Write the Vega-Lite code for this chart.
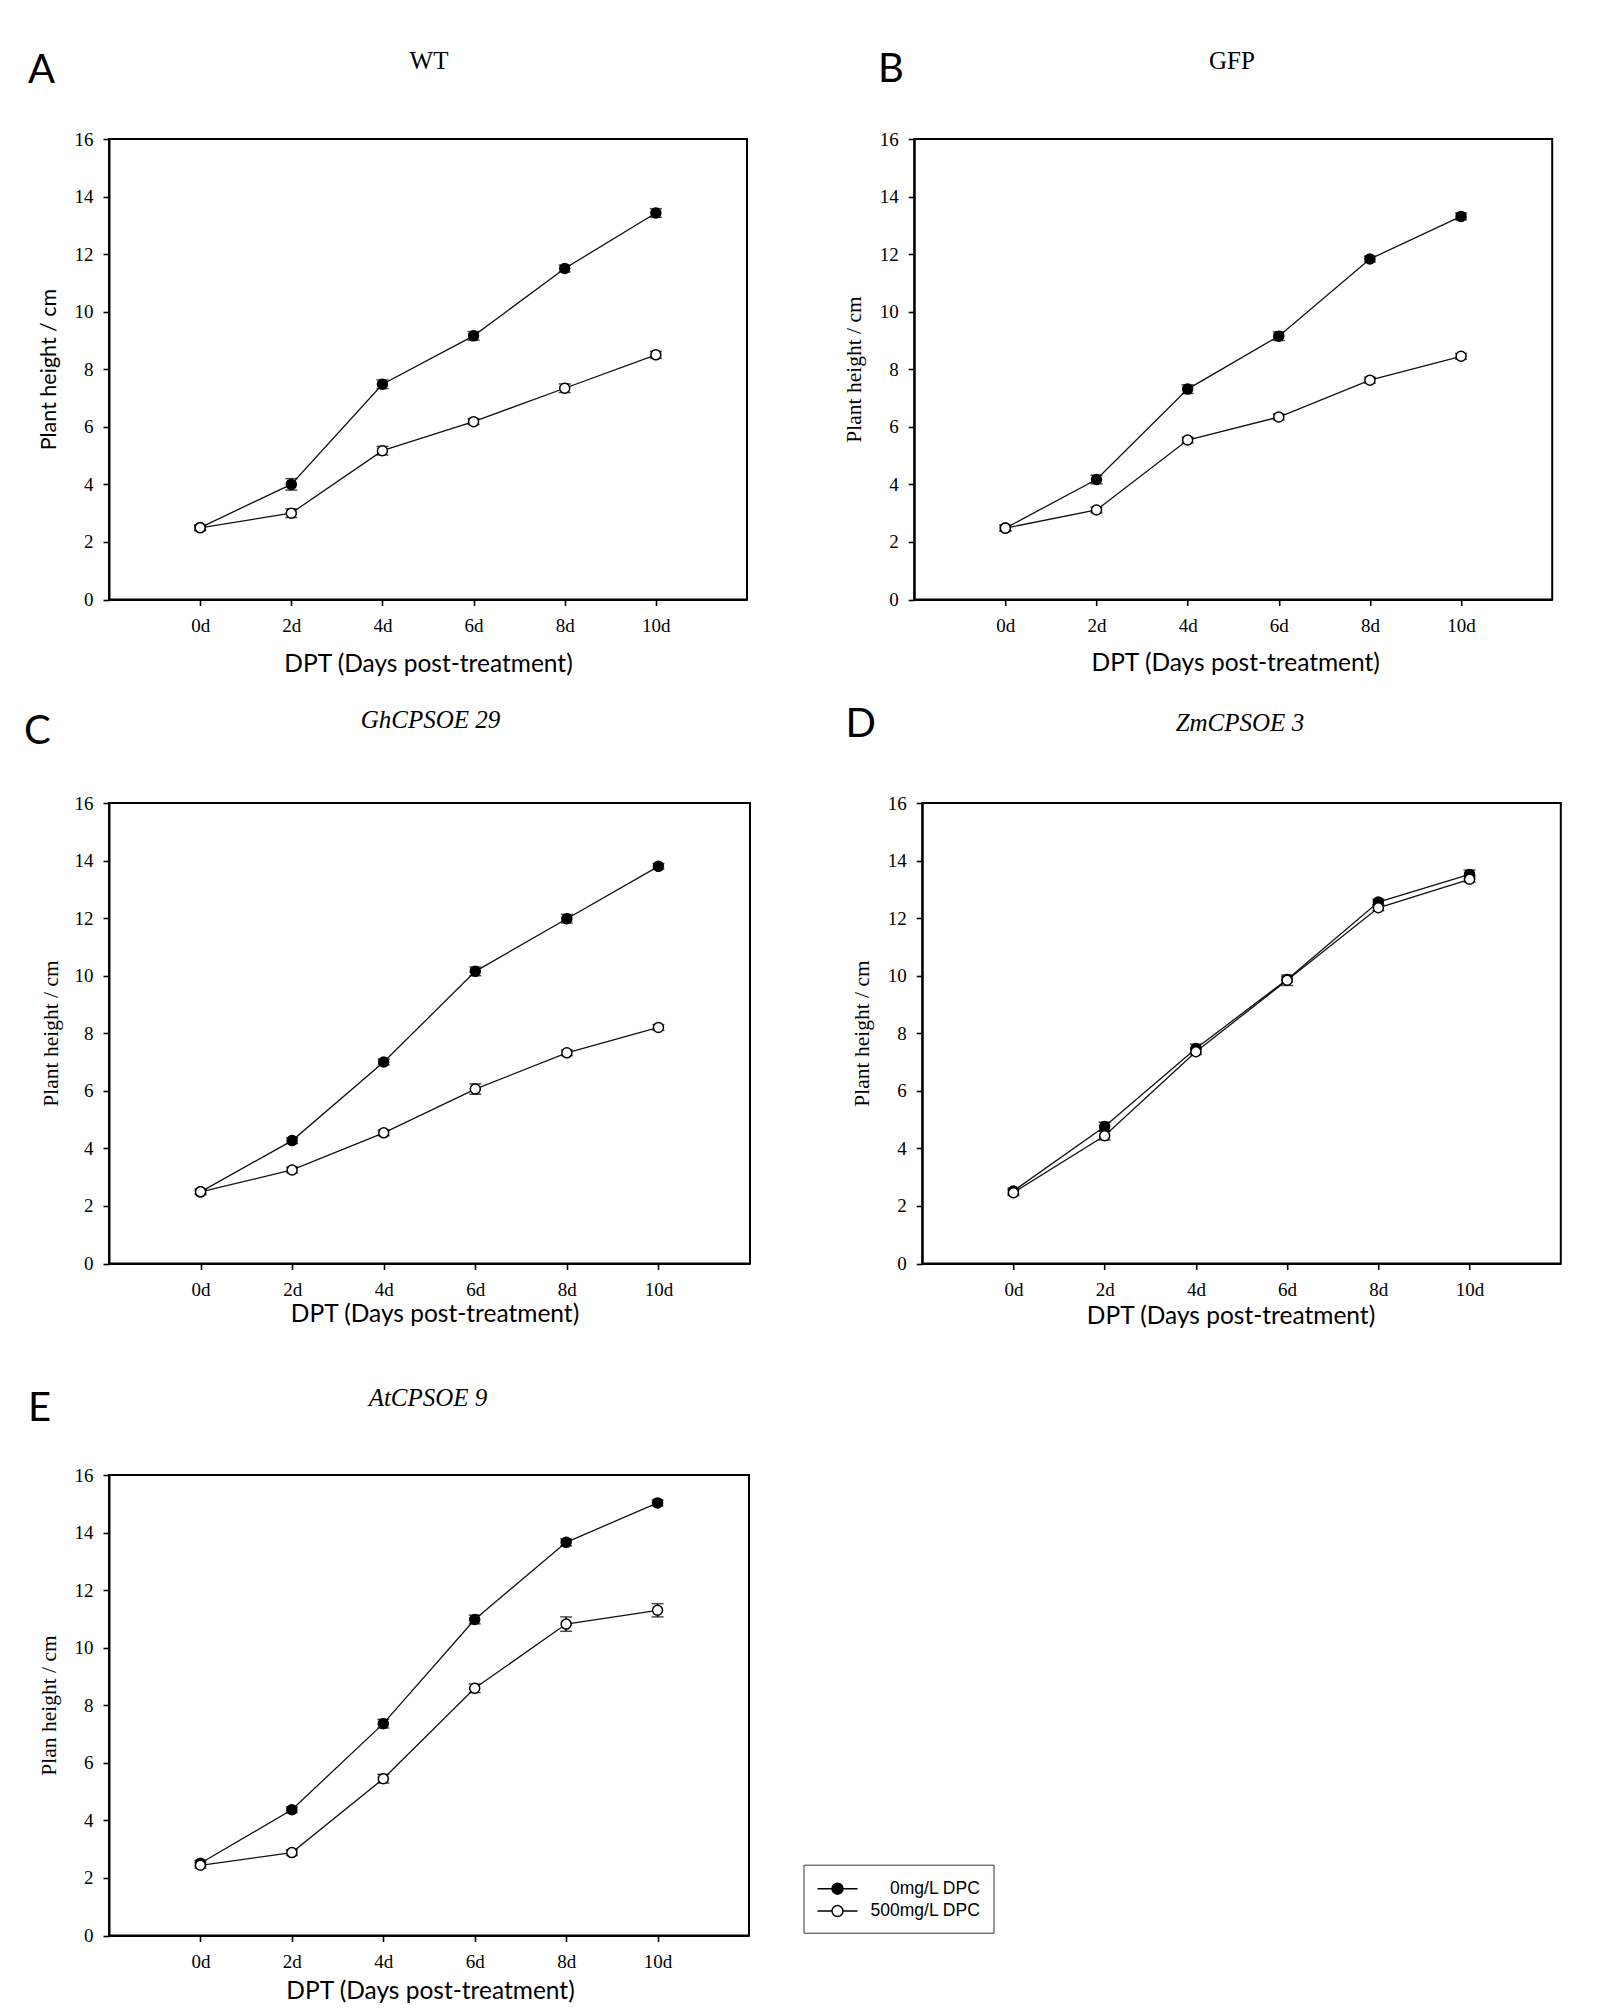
{
  "$schema": "https://vega.github.io/schema/vega-lite/v6.json",
  "background": "white",
  "padding": {"left": 22, "top": 47, "right": 20, "bottom": 20},
  "data": {"values": [
    {"panel":"A","treatment":"0mg/L DPC","day":0,"height":2.5,"err":0.08},
    {"panel":"A","treatment":"0mg/L DPC","day":2,"height":4.0,"err":0.2},
    {"panel":"A","treatment":"0mg/L DPC","day":4,"height":7.48,"err":0.15},
    {"panel":"A","treatment":"0mg/L DPC","day":6,"height":9.16,"err":0.15},
    {"panel":"A","treatment":"0mg/L DPC","day":8,"height":11.5,"err":0.12},
    {"panel":"A","treatment":"0mg/L DPC","day":10,"height":13.43,"err":0.15},
    {"panel":"A","treatment":"500mg/L DPC","day":0,"height":2.49,"err":0.1},
    {"panel":"A","treatment":"500mg/L DPC","day":2,"height":3.0,"err":0.15},
    {"panel":"A","treatment":"500mg/L DPC","day":4,"height":5.17,"err":0.15},
    {"panel":"A","treatment":"500mg/L DPC","day":6,"height":6.18,"err":0.1},
    {"panel":"A","treatment":"500mg/L DPC","day":8,"height":7.34,"err":0.15},
    {"panel":"A","treatment":"500mg/L DPC","day":10,"height":8.5,"err":0.12},
    {"panel":"B","treatment":"0mg/L DPC","day":0,"height":2.48,"err":0.1},
    {"panel":"B","treatment":"0mg/L DPC","day":2,"height":4.17,"err":0.15},
    {"panel":"B","treatment":"0mg/L DPC","day":4,"height":7.31,"err":0.15},
    {"panel":"B","treatment":"0mg/L DPC","day":6,"height":9.15,"err":0.15},
    {"panel":"B","treatment":"0mg/L DPC","day":8,"height":11.83,"err":0.1},
    {"panel":"B","treatment":"0mg/L DPC","day":10,"height":13.31,"err":0.12},
    {"panel":"B","treatment":"500mg/L DPC","day":0,"height":2.48,"err":0.1},
    {"panel":"B","treatment":"500mg/L DPC","day":2,"height":3.11,"err":0.1},
    {"panel":"B","treatment":"500mg/L DPC","day":4,"height":5.54,"err":0.1},
    {"panel":"B","treatment":"500mg/L DPC","day":6,"height":6.34,"err":0.1},
    {"panel":"B","treatment":"500mg/L DPC","day":8,"height":7.62,"err":0.1},
    {"panel":"B","treatment":"500mg/L DPC","day":10,"height":8.45,"err":0.1},
    {"panel":"C","treatment":"0mg/L DPC","day":0,"height":2.49,"err":0.05},
    {"panel":"C","treatment":"0mg/L DPC","day":2,"height":4.27,"err":0.1},
    {"panel":"C","treatment":"0mg/L DPC","day":4,"height":7.0,"err":0.1},
    {"panel":"C","treatment":"0mg/L DPC","day":6,"height":10.15,"err":0.15},
    {"panel":"C","treatment":"0mg/L DPC","day":8,"height":11.98,"err":0.15},
    {"panel":"C","treatment":"0mg/L DPC","day":10,"height":13.8,"err":0.1},
    {"panel":"C","treatment":"500mg/L DPC","day":0,"height":2.49,"err":0.1},
    {"panel":"C","treatment":"500mg/L DPC","day":2,"height":3.25,"err":0.1},
    {"panel":"C","treatment":"500mg/L DPC","day":4,"height":4.54,"err":0.1},
    {"panel":"C","treatment":"500mg/L DPC","day":6,"height":6.06,"err":0.18},
    {"panel":"C","treatment":"500mg/L DPC","day":8,"height":7.32,"err":0.1},
    {"panel":"C","treatment":"500mg/L DPC","day":10,"height":8.2,"err":0.1},
    {"panel":"D","treatment":"0mg/L DPC","day":0,"height":2.52,"err":0.1},
    {"panel":"D","treatment":"0mg/L DPC","day":2,"height":4.76,"err":0.15},
    {"panel":"D","treatment":"0mg/L DPC","day":4,"height":7.47,"err":0.15},
    {"panel":"D","treatment":"0mg/L DPC","day":6,"height":9.87,"err":0.1},
    {"panel":"D","treatment":"0mg/L DPC","day":8,"height":12.56,"err":0.1},
    {"panel":"D","treatment":"0mg/L DPC","day":10,"height":13.52,"err":0.15},
    {"panel":"D","treatment":"500mg/L DPC","day":0,"height":2.46,"err":0.1},
    {"panel":"D","treatment":"500mg/L DPC","day":2,"height":4.44,"err":0.15},
    {"panel":"D","treatment":"500mg/L DPC","day":4,"height":7.36,"err":0.1},
    {"panel":"D","treatment":"500mg/L DPC","day":6,"height":9.84,"err":0.18},
    {"panel":"D","treatment":"500mg/L DPC","day":8,"height":12.36,"err":0.1},
    {"panel":"D","treatment":"500mg/L DPC","day":10,"height":13.35,"err":0.1},
    {"panel":"E","treatment":"0mg/L DPC","day":0,"height":2.51,"err":0.1},
    {"panel":"E","treatment":"0mg/L DPC","day":2,"height":4.37,"err":0.1},
    {"panel":"E","treatment":"0mg/L DPC","day":4,"height":7.36,"err":0.15},
    {"panel":"E","treatment":"0mg/L DPC","day":6,"height":10.98,"err":0.15},
    {"panel":"E","treatment":"0mg/L DPC","day":8,"height":13.66,"err":0.12},
    {"panel":"E","treatment":"0mg/L DPC","day":10,"height":15.03,"err":0.1},
    {"panel":"E","treatment":"500mg/L DPC","day":0,"height":2.44,"err":0.1},
    {"panel":"E","treatment":"500mg/L DPC","day":2,"height":2.88,"err":0.1},
    {"panel":"E","treatment":"500mg/L DPC","day":4,"height":5.45,"err":0.15},
    {"panel":"E","treatment":"500mg/L DPC","day":6,"height":8.59,"err":0.15},
    {"panel":"E","treatment":"500mg/L DPC","day":8,"height":10.82,"err":0.25},
    {"panel":"E","treatment":"500mg/L DPC","day":10,"height":11.3,"err":0.23}
  ]},
  "spacing": 26,
  "resolve": {"scale": {"fill": "independent"}, "legend": {"fill": "independent"}},
  "vconcat": [
    {
      "hconcat": [
        {
          "width": 638, "height": 460.5,
          "transform": [{"filter": "datum.panel === 'A'"}],
          "resolve": {"axis": {"x": "independent"}},
          "layer": [
            {"mark": {"type": "line", "color": "#111111", "strokeWidth": 1.3},
             "encoding": {
               "x": {"field": "day", "type": "quantitative", "scale": {"domain": [-2, 12], "nice": false, "zero": false},
                     "axis": {"orient": "bottom", "values": [0,2,4,6,8,10], "labelExpr": "datum.value + 'd'", "title": "DPT (Days post-treatment)", "titleFont": "Lato", "titleFontSize": 24.5, "titleX": 319, "titleY": 65, "titleAlign": "center", "titleBaseline": "middle"}},
               "y": {"field": "height", "type": "quantitative", "scale": {"domain": [0, 16], "nice": false},
                     "axis": {"values": [0,2,4,6,8,10,12,14,16], "title": "Plant height / cm", "titleFont": "Lato", "titleFontSize": 21.5, "titleX": -59.5, "titleY": 230, "titleAlign": "center", "titleBaseline": "middle", "titleAngle": -90}},
               "detail": {"field": "treatment"}}},
            {"mark": {"type": "errorbar", "ticks": true, "size": 12, "thickness": 1.5, "color": "black"},
             "encoding": {
               "x": {"field": "day", "type": "quantitative",
                     "axis": {"orient": "top", "domain": false, "ticks": false, "labels": false, "title": "A", "titleFont": "Lato", "titleFontSize": 40, "titleX": -68, "titleY": -69, "titleAlign": "center", "titleBaseline": "middle"}},
               "y": {"field": "height", "type": "quantitative",
                     "axis": {"values": [0,2,4,6,8,10,12,14,16], "title": "Plant height / cm", "titleFont": "Lato", "titleFontSize": 21.5, "titleX": -59.5, "titleY": 230, "titleAlign": "center", "titleBaseline": "middle", "titleAngle": -90}},
               "yError": {"field": "err"}}},
            {"mark": {"type": "point", "shape": "circle", "filled": true, "size": 100, "stroke": "black", "strokeWidth": 1.5, "opacity": 1},
             "encoding": {
               "x": {"field": "day", "type": "quantitative",
                     "axis": {"orient": "top", "domain": false, "ticks": false, "labels": false, "title": "WT", "titleFont": "Liberation Serif", "titleFontSize": 25, "titleX": 319.5, "titleY": -79, "titleAlign": "center", "titleBaseline": "middle"}},
               "y": {"field": "height", "type": "quantitative",
                     "axis": {"values": [0,2,4,6,8,10,12,14,16], "title": "Plant height / cm", "titleFont": "Lato", "titleFontSize": 21.5, "titleX": -59.5, "titleY": 230, "titleAlign": "center", "titleBaseline": "middle", "titleAngle": -90}},
               "fill": {"field": "treatment", "type": "nominal", "scale": {"domain": ["0mg/L DPC", "500mg/L DPC"], "range": ["black", "white"]}, "legend": null}}}
          ]
        },
        {
          "width": 638, "height": 460.5,
          "transform": [{"filter": "datum.panel === 'B'"}],
          "resolve": {"axis": {"x": "independent"}},
          "layer": [
            {"mark": {"type": "line", "color": "#111111", "strokeWidth": 1.3},
             "encoding": {
               "x": {"field": "day", "type": "quantitative", "scale": {"domain": [-2, 12], "nice": false, "zero": false},
                     "axis": {"orient": "bottom", "values": [0,2,4,6,8,10], "labelExpr": "datum.value + 'd'", "title": "DPT (Days post-treatment)", "titleFont": "Lato", "titleFontSize": 24.5, "titleX": 321, "titleY": 64, "titleAlign": "center", "titleBaseline": "middle"}},
               "y": {"field": "height", "type": "quantitative", "scale": {"domain": [0, 16], "nice": false},
                     "axis": {"values": [0,2,4,6,8,10,12,14,16], "title": "Plant height / cm", "titleFont": "Liberation Serif", "titleFontSize": 21.5, "titleX": -59.7, "titleY": 230, "titleAlign": "center", "titleBaseline": "middle", "titleAngle": -90}},
               "detail": {"field": "treatment"}}},
            {"mark": {"type": "errorbar", "ticks": true, "size": 12, "thickness": 1.5, "color": "black"},
             "encoding": {
               "x": {"field": "day", "type": "quantitative",
                     "axis": {"orient": "top", "domain": false, "ticks": false, "labels": false, "title": "B", "titleFont": "Lato", "titleFontSize": 40, "titleX": -23.7, "titleY": -70, "titleAlign": "center", "titleBaseline": "middle"}},
               "y": {"field": "height", "type": "quantitative",
                     "axis": {"values": [0,2,4,6,8,10,12,14,16], "title": "Plant height / cm", "titleFont": "Liberation Serif", "titleFontSize": 21.5, "titleX": -59.7, "titleY": 230, "titleAlign": "center", "titleBaseline": "middle", "titleAngle": -90}},
               "yError": {"field": "err"}}},
            {"mark": {"type": "point", "shape": "circle", "filled": true, "size": 100, "stroke": "black", "strokeWidth": 1.5, "opacity": 1},
             "encoding": {
               "x": {"field": "day", "type": "quantitative",
                     "axis": {"orient": "top", "domain": false, "ticks": false, "labels": false, "title": "GFP", "titleFont": "Liberation Serif", "titleFontSize": 25, "titleX": 317.3, "titleY": -78.6, "titleAlign": "center", "titleBaseline": "middle"}},
               "y": {"field": "height", "type": "quantitative",
                     "axis": {"values": [0,2,4,6,8,10,12,14,16], "title": "Plant height / cm", "titleFont": "Liberation Serif", "titleFontSize": 21.5, "titleX": -59.7, "titleY": 230, "titleAlign": "center", "titleBaseline": "middle", "titleAngle": -90}},
               "fill": {"field": "treatment", "type": "nominal", "scale": {"domain": ["0mg/L DPC", "500mg/L DPC"], "range": ["black", "white"]}, "legend": null}}}
          ]
        }
      ],
      "spacing": 167.2,
      "bounds": "flush",
      "resolve": {"scale": {"fill": "independent"}, "legend": {"fill": "independent"}}
    },
    {
      "spacing": 55,
      "resolve": {"scale": {"fill": "independent"}, "legend": {"fill": "independent"}},
      "vconcat": [
        {
          "hconcat": [
            {
              "width": 641, "height": 460.5,
              "transform": [{"filter": "datum.panel === 'C'"}],
              "resolve": {"axis": {"x": "independent"}},
              "layer": [
                {"mark": {"type": "line", "color": "#111111", "strokeWidth": 1.3},
                 "encoding": {
                   "x": {"field": "day", "type": "quantitative", "scale": {"domain": [-2, 12], "nice": false, "zero": false},
                         "axis": {"orient": "bottom", "values": [0,2,4,6,8,10], "labelExpr": "datum.value + 'd'", "title": "DPT (Days post-treatment)", "titleFont": "Lato", "titleFontSize": 24.5, "titleX": 325.5, "titleY": 50.5, "titleAlign": "center", "titleBaseline": "middle"}},
                   "y": {"field": "height", "type": "quantitative", "scale": {"domain": [0, 16], "nice": false},
                         "axis": {"values": [0,2,4,6,8,10,12,14,16], "title": "Plant height / cm", "titleFont": "Liberation Serif", "titleFontSize": 21.5, "titleX": -57.5, "titleY": 230, "titleAlign": "center", "titleBaseline": "middle", "titleAngle": -90}},
                   "detail": {"field": "treatment"}}},
                {"mark": {"type": "errorbar", "ticks": true, "size": 12, "thickness": 1.5, "color": "black"},
                 "encoding": {
                   "x": {"field": "day", "type": "quantitative",
                         "axis": {"orient": "top", "domain": false, "ticks": false, "labels": false, "title": "C", "titleFont": "Lato", "titleFontSize": 40, "titleX": -72.2, "titleY": -72, "titleAlign": "center", "titleBaseline": "middle"}},
                   "y": {"field": "height", "type": "quantitative",
                         "axis": {"values": [0,2,4,6,8,10,12,14,16], "title": "Plant height / cm", "titleFont": "Liberation Serif", "titleFontSize": 21.5, "titleX": -57.5, "titleY": 230, "titleAlign": "center", "titleBaseline": "middle", "titleAngle": -90}},
                   "yError": {"field": "err"}}},
                {"mark": {"type": "point", "shape": "circle", "filled": true, "size": 100, "stroke": "black", "strokeWidth": 1.5, "opacity": 1},
                 "encoding": {
                   "x": {"field": "day", "type": "quantitative",
                         "axis": {"orient": "top", "domain": false, "ticks": false, "labels": false, "title": "GhCPSOE 29", "titleFont": "Liberation Serif", "titleFontStyle": "italic", "titleFontSize": 25, "titleX": 321, "titleY": -83.4, "titleAlign": "center", "titleBaseline": "middle"}},
                   "y": {"field": "height", "type": "quantitative",
                         "axis": {"values": [0,2,4,6,8,10,12,14,16], "title": "Plant height / cm", "titleFont": "Liberation Serif", "titleFontSize": 21.5, "titleX": -57.5, "titleY": 230, "titleAlign": "center", "titleBaseline": "middle", "titleAngle": -90}},
                   "fill": {"field": "treatment", "type": "nominal", "scale": {"domain": ["0mg/L DPC", "500mg/L DPC"], "range": ["black", "white"]}, "legend": null}}}
              ]
            },
            {
              "width": 638.6, "height": 460.5,
              "transform": [{"filter": "datum.panel === 'D'"}],
              "resolve": {"axis": {"x": "independent"}},
              "layer": [
                {"mark": {"type": "line", "color": "#111111", "strokeWidth": 1.3},
                 "encoding": {
                   "x": {"field": "day", "type": "quantitative", "scale": {"domain": [-2, 12], "nice": false, "zero": false},
                         "axis": {"orient": "bottom", "values": [0,2,4,6,8,10], "labelExpr": "datum.value + 'd'", "title": "DPT (Days post-treatment)", "titleFont": "Lato", "titleFontSize": 24.5, "titleX": 308.3, "titleY": 52.5, "titleAlign": "center", "titleBaseline": "middle"}},
                   "y": {"field": "height", "type": "quantitative", "scale": {"domain": [0, 16], "nice": false},
                         "axis": {"values": [0,2,4,6,8,10,12,14,16], "title": "Plant height / cm", "titleFont": "Liberation Serif", "titleFontSize": 21.5, "titleX": -60, "titleY": 230, "titleAlign": "center", "titleBaseline": "middle", "titleAngle": -90}},
                   "detail": {"field": "treatment"}}},
                {"mark": {"type": "errorbar", "ticks": true, "size": 12, "thickness": 1.5, "color": "black"},
                 "encoding": {
                   "x": {"field": "day", "type": "quantitative",
                         "axis": {"orient": "top", "domain": false, "ticks": false, "labels": false, "title": "D", "titleFont": "Lato", "titleFontSize": 40, "titleX": -62, "titleY": -79, "titleAlign": "center", "titleBaseline": "middle"}},
                   "y": {"field": "height", "type": "quantitative",
                         "axis": {"values": [0,2,4,6,8,10,12,14,16], "title": "Plant height / cm", "titleFont": "Liberation Serif", "titleFontSize": 21.5, "titleX": -60, "titleY": 230, "titleAlign": "center", "titleBaseline": "middle", "titleAngle": -90}},
                   "yError": {"field": "err"}}},
                {"mark": {"type": "point", "shape": "circle", "filled": true, "size": 100, "stroke": "black", "strokeWidth": 1.5, "opacity": 1},
                 "encoding": {
                   "x": {"field": "day", "type": "quantitative",
                         "axis": {"orient": "top", "domain": false, "ticks": false, "labels": false, "title": "ZmCPSOE 3", "titleFont": "Liberation Serif", "titleFontStyle": "italic", "titleFontSize": 25, "titleX": 317.2, "titleY": -81, "titleAlign": "center", "titleBaseline": "middle"}},
                   "y": {"field": "height", "type": "quantitative",
                         "axis": {"values": [0,2,4,6,8,10,12,14,16], "title": "Plant height / cm", "titleFont": "Liberation Serif", "titleFontSize": 21.5, "titleX": -60, "titleY": 230, "titleAlign": "center", "titleBaseline": "middle", "titleAngle": -90}},
                   "fill": {"field": "treatment", "type": "nominal", "scale": {"domain": ["0mg/L DPC", "500mg/L DPC"], "range": ["black", "white"]}, "legend": null}}}
              ]
            }
          ],
          "spacing": 172.2,
          "bounds": "flush",
          "resolve": {"scale": {"fill": "independent"}, "legend": {"fill": "independent"}}
        },
        {
          "width": 640, "height": 460.5,
          "transform": [{"filter": "datum.panel === 'E'"}],
          "resolve": {"axis": {"x": "independent"}},
          "layer": [
            {"mark": {"type": "line", "color": "#111111", "strokeWidth": 1.3},
             "encoding": {
               "x": {"field": "day", "type": "quantitative", "scale": {"domain": [-2, 12], "nice": false, "zero": false},
                     "axis": {"orient": "bottom", "values": [0,2,4,6,8,10], "labelExpr": "datum.value + 'd'", "title": "DPT (Days post-treatment)", "titleFont": "Lato", "titleFontSize": 24.5, "titleX": 321, "titleY": 56, "titleAlign": "center", "titleBaseline": "middle"}},
               "y": {"field": "height", "type": "quantitative", "scale": {"domain": [0, 16], "nice": false},
                     "axis": {"values": [0,2,4,6,8,10,12,14,16], "title": "Plan height / cm", "titleFont": "Liberation Serif", "titleFontSize": 21.5, "titleX": -59.5, "titleY": 230, "titleAlign": "center", "titleBaseline": "middle", "titleAngle": -90}},
               "detail": {"field": "treatment"}}},
            {"mark": {"type": "errorbar", "ticks": true, "size": 12, "thickness": 1.5, "color": "black"},
             "encoding": {
               "x": {"field": "day", "type": "quantitative",
                     "axis": {"orient": "top", "domain": false, "ticks": false, "labels": false, "title": "E", "titleFont": "Lato", "titleFontSize": 40, "titleX": -70, "titleY": -66.5, "titleAlign": "center", "titleBaseline": "middle"}},
               "y": {"field": "height", "type": "quantitative",
                     "axis": {"values": [0,2,4,6,8,10,12,14,16], "title": "Plan height / cm", "titleFont": "Liberation Serif", "titleFontSize": 21.5, "titleX": -59.5, "titleY": 230, "titleAlign": "center", "titleBaseline": "middle", "titleAngle": -90}},
               "yError": {"field": "err"}}},
            {"mark": {"type": "point", "shape": "circle", "filled": true, "size": 100, "stroke": "black", "strokeWidth": 1.5, "opacity": 1},
             "encoding": {
               "x": {"field": "day", "type": "quantitative",
                     "axis": {"orient": "top", "domain": false, "ticks": false, "labels": false, "title": "AtCPSOE 9", "titleFont": "Liberation Serif", "titleFontStyle": "italic", "titleFontSize": 25, "titleX": 318.5, "titleY": -77.9, "titleAlign": "center", "titleBaseline": "middle"}},
               "y": {"field": "height", "type": "quantitative",
                     "axis": {"values": [0,2,4,6,8,10,12,14,16], "title": "Plan height / cm", "titleFont": "Liberation Serif", "titleFontSize": 21.5, "titleX": -59.5, "titleY": 230, "titleAlign": "center", "titleBaseline": "middle", "titleAngle": -90}},
               "fill": {"field": "treatment", "type": "nominal", "scale": {"domain": ["0mg/L DPC", "500mg/L DPC"], "range": ["black", "white"]},
                        "legend": {"orient": "none", "legendX": 694.5, "legendY": 389.7, "title": null, "direction": "vertical",
                                   "symbolType": "M-1,0H0.45M1.55,0H3M1.55,0A0.55,0.55,0,1,1,0.45,0A0.55,0.55,0,1,1,1.55,0Z",
                                   "symbolSize": 400, "symbolStrokeColor": "black", "symbolStrokeWidth": 1.5,
                                   "labelFont": "Liberation Sans", "labelFontSize": 17.5, "labelColor": "black", "labelAlign": "right",
                                   "labelOffset": 141.3, "labelLimit": 300, "rowPadding": 2.4, "padding": 13,
                                   "strokeColor": "#333333", "fillColor": "white",
                                   "encode": {"legend": {"update": {"strokeWidth": {"value": 2}}}}}}}}
          ]
        }
      ]
    }
  ],
  "config": {
    "view": {"stroke": "black", "strokeWidth": 2},
    "axis": {"grid": false, "domainColor": "black", "domainWidth": 2, "tickColor": "black", "tickWidth": 1.6, "tickSize": 6,
             "labelFont": "Liberation Serif", "labelFontSize": 19, "labelColor": "black", "labelPadding": 10,
             "titleColor": "black", "titleFontWeight": "normal"},
    "axisX": {"labelPadding": 11}
  }
}
